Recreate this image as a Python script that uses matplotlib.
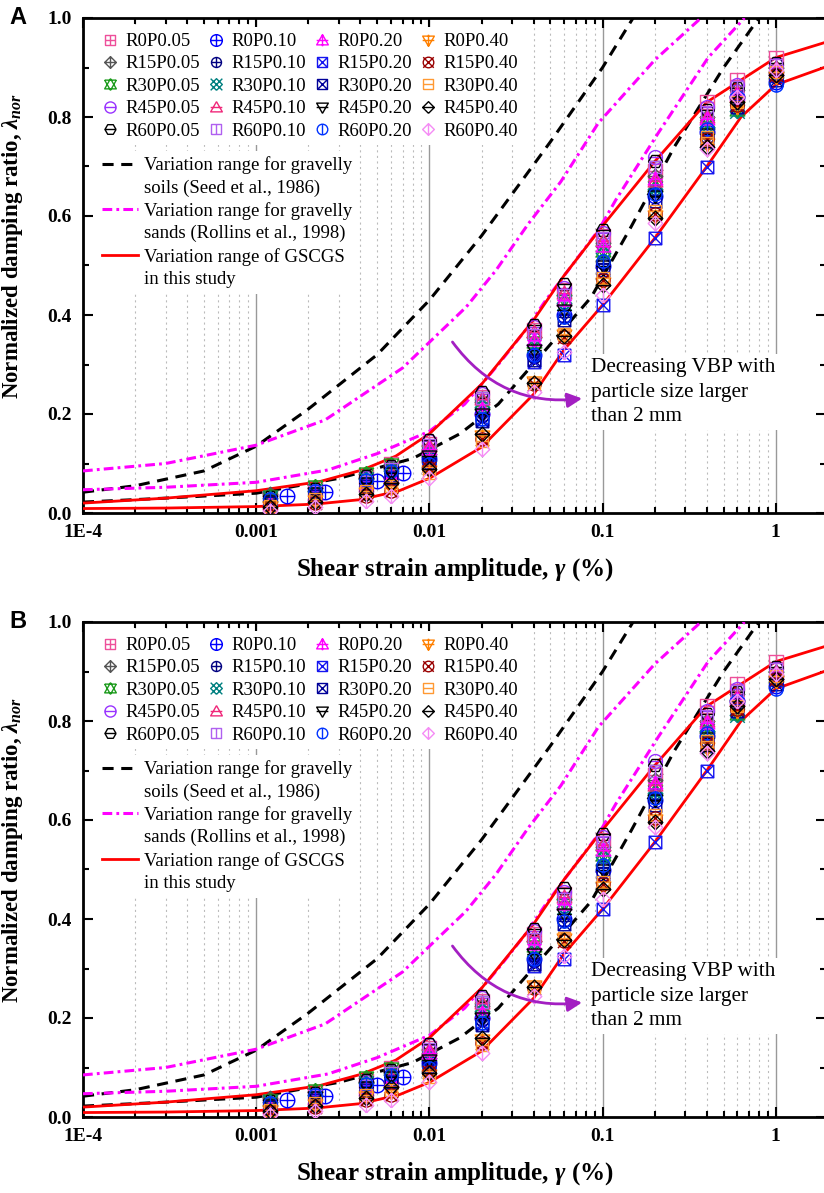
import numpy as np
import matplotlib
matplotlib.use("Agg")
import matplotlib.pyplot as plt
from matplotlib.path import Path
from matplotlib.lines import Line2D
from matplotlib.patches import FancyArrowPatch

plt.rcParams['font.family'] = ['Liberation Serif', 'DejaVu Serif']
plt.rcParams['mathtext.fontset'] = 'custom'
plt.rcParams['mathtext.rm'] = 'Liberation Serif:bold'
plt.rcParams['mathtext.it'] = 'Liberation Serif:italic:bold'
plt.rcParams['mathtext.bf'] = 'Liberation Serif:bold'
plt.rcParams['lines.scale_dashes'] = False

# ---- data ----
strain = [0.0012, 0.0022, 0.0043, 0.006, 0.01, 0.02, 0.04, 0.06, 0.1, 0.2, 0.4, 0.6, 1.0]
strain_r0p010 = [0.0015, 0.0025, 0.005, 0.007, 0.01, 0.02, 0.04, 0.06, 0.1, 0.2, 0.4, 0.6, 1.0]

labels = ['R0P0.05', 'R15P0.05', 'R30P0.05', 'R45P0.05', 'R60P0.05',
          'R0P0.10', 'R15P0.10', 'R30P0.10', 'R45P0.10', 'R60P0.10',
          'R0P0.20', 'R15P0.20', 'R30P0.20', 'R45P0.20', 'R60P0.20',
          'R0P0.40', 'R15P0.40', 'R30P0.40', 'R45P0.40', 'R60P0.40']

r0p005 = [0.030, 0.050, 0.072, 0.098, 0.140, 0.235, 0.370, 0.450, 0.560, 0.690, 0.830, 0.875, 0.920]
r15p005 = [0.038, 0.050, 0.078, 0.090, 0.130, 0.225, 0.355, 0.440, 0.545, 0.680, 0.800, 0.855, 0.900]
r30p005 = [0.035, 0.055, 0.080, 0.100, 0.125, 0.220, 0.345, 0.430, 0.530, 0.660, 0.790, 0.815, 0.890]
r45p005 = [0.028, 0.046, 0.070, 0.092, 0.145, 0.240, 0.375, 0.455, 0.565, 0.720, 0.820, 0.865, 0.905]
r60p005 = [0.032, 0.048, 0.075, 0.095, 0.148, 0.245, 0.380, 0.462, 0.572, 0.712, 0.815, 0.858, 0.910]

r0p010 = [0.035, 0.043, 0.065, 0.080, 0.110, 0.200, 0.320, 0.400, 0.500, 0.640, 0.770, 0.840, 0.870]
r15p010 = [0.025, 0.040, 0.060, 0.075, 0.105, 0.195, 0.315, 0.395, 0.505, 0.650, 0.760, 0.830, 0.880]
r30p010 = [0.030, 0.045, 0.068, 0.085, 0.120, 0.215, 0.340, 0.425, 0.525, 0.655, 0.780, 0.812, 0.885]
r45p010 = [0.020, 0.038, 0.055, 0.080, 0.135, 0.230, 0.365, 0.445, 0.550, 0.670, 0.800, 0.850, 0.900]
r60p010 = [0.022, 0.042, 0.062, 0.088, 0.138, 0.232, 0.360, 0.440, 0.555, 0.700, 0.810, 0.860, 0.905]

r0p020 = [0.018, 0.036, 0.058, 0.072, 0.130, 0.210, 0.350, 0.430, 0.540, 0.675, 0.795, 0.845, 0.895]
r15p020 = [0.015, 0.030, 0.050, 0.070, 0.095, 0.190, 0.305, 0.320, 0.420, 0.555, 0.700, 0.830, 0.885]
r30p020 = [0.020, 0.035, 0.055, 0.070, 0.100, 0.185, 0.310, 0.390, 0.490, 0.630, 0.750, 0.820, 0.875]
r45p020 = [0.025, 0.040, 0.060, 0.080, 0.115, 0.200, 0.330, 0.410, 0.500, 0.640, 0.765, 0.830, 0.880]
r60p020 = [0.028, 0.044, 0.066, 0.085, 0.100, 0.190, 0.320, 0.395, 0.510, 0.645, 0.775, 0.840, 0.865]

r0p040 = [0.012, 0.025, 0.040, 0.050, 0.085, 0.155, 0.265, 0.360, 0.465, 0.600, 0.745, 0.820, 0.880]
r15p040 = [0.010, 0.020, 0.035, 0.045, 0.090, 0.150, 0.260, 0.355, 0.470, 0.605, 0.755, 0.825, 0.885]
r30p040 = [0.015, 0.028, 0.045, 0.055, 0.080, 0.145, 0.262, 0.362, 0.475, 0.610, 0.760, 0.830, 0.890]
r45p040 = [0.013, 0.022, 0.038, 0.060, 0.088, 0.160, 0.262, 0.358, 0.460, 0.595, 0.740, 0.830, 0.885]
r60p040 = [0.005, 0.012, 0.025, 0.035, 0.070, 0.130, 0.245, 0.325, 0.440, 0.585, 0.735, 0.840, 0.895]

series = [r0p005, r15p005, r30p005, r45p005, r60p005,
          r0p010, r15p010, r30p010, r45p010, r60p010,
          r0p020, r15p020, r30p020, r45p020, r60p020,
          r0p040, r15p040, r30p040, r45p040, r60p040]

# reference curves (strain %, normalized damping)
seed_up_x = [1e-4, 2e-4, 5e-4, 1e-3, 2e-3, 5e-3, 1e-2, 2e-2, 5e-2, 0.1, 0.15]
seed_up_y = [0.042, 0.055, 0.085, 0.135, 0.21, 0.32, 0.43, 0.56, 0.75, 0.90, 1.0]
seed_lo_x = [1e-4, 3e-4, 1e-3, 3e-3, 8e-3, 0.015, 0.025, 0.047, 0.086, 0.146, 0.26, 0.5, 0.8]
seed_lo_y = [0.022, 0.03, 0.04, 0.07, 0.11, 0.16, 0.22, 0.33, 0.436, 0.578, 0.74, 0.90, 1.0]
roll_up_x = [1e-4, 3e-4, 1e-3, 2.5e-3, 7e-3, 0.01, 0.0163, 0.0242, 0.0374, 0.0573, 0.0946, 0.2, 0.37]
roll_up_y = [0.085, 0.10, 0.137, 0.188, 0.293, 0.345, 0.416, 0.49, 0.585, 0.669, 0.788, 0.915, 1.0]
roll_lo_x = [1e-4, 3e-4, 1e-3, 2.6e-3, 5e-3, 0.01, 0.016, 0.025, 0.036, 0.047, 0.095, 0.119, 0.209, 0.407, 0.66]
roll_lo_y = [0.047, 0.052, 0.062, 0.087, 0.12, 0.165, 0.22, 0.30, 0.37, 0.43, 0.572, 0.632, 0.767, 0.92, 1.0]
gscgs_up_x = [1e-4, 3e-4, 1e-3, 2.3e-3, 4.1e-3, 6.4e-3, 0.01, 0.02, 0.04, 0.06, 0.1, 0.2, 0.4, 1.0, 1.9]
gscgs_up_y = [0.02, 0.03, 0.045, 0.063, 0.087, 0.115, 0.16, 0.26, 0.39, 0.48, 0.58, 0.71, 0.83, 0.92, 0.95]
gscgs_lo_x = [1e-4, 3e-4, 1e-3, 2.2e-3, 4e-3, 6.7e-3, 0.01, 0.02, 0.04, 0.06, 0.1, 0.2, 0.4, 0.63, 1.0, 1.9]
gscgs_lo_y = [0.009, 0.01, 0.013, 0.018, 0.027, 0.045, 0.07, 0.133, 0.24, 0.33, 0.42, 0.555, 0.70, 0.80, 0.865, 0.90]


# ---- marker shapes ----
def outline(kind):
    if kind == 'square':
        return [(-1, -1), (1, -1), (1, 1), (-1, 1), (-1, -1)]
    if kind == 'diamond':
        return [(0, -1), (1, 0), (0, 1), (-1, 0), (0, -1)]
    if kind == 'up':
        return [(0, 1), (-1, -0.75), (1, -0.75), (0, 1)]
    if kind == 'down':
        return [(0, -1), (-1, 0.75), (1, 0.75), (0, -1)]
    if kind == 'hex':
        a = np.linspace(0, 2 * np.pi, 7)
        return list(zip(np.cos(a), np.sin(a)))
    return None


def make_marker(kind, inner):
    verts, codes = [], []
    if kind == 'circle':
        c = Path.unit_circle()
        verts += list(c.vertices)
        codes += list(c.codes)
    else:
        pts = outline(kind)
        verts += pts
        codes += [Path.MOVETO] + [Path.LINETO] * (len(pts) - 1)
    segs = []
    if '+' in inner:
        segs += [((-1, 0), (1, 0)), ((0, -1), (0, 1))]
    if 'x' in inner:
        segs += [((-1, -1), (1, 1)), ((-1, 1), (1, -1))]
    if '-' in inner:
        segs += [((-1, 0), (1, 0))]
    if '|' in inner:
        segs += [((0, -1), (0, 1))]
    if 'star' in inner:
        segs += [((0, -1), (-1, 0.75)), ((-1, 0.75), (1, 0.75)), ((1, 0.75), (0, -1))]
    for a, b in segs:
        verts += [a, b]
        codes += [Path.MOVETO, Path.LINETO]
    return Path(verts, codes)


styles = [
    ('#EE4F9A', 'square', '+'), ('#555555', 'diamond', '+'), ('#1C9B1C', 'up', 'star'),
    ('#9933FF', 'circle', '-'), ('black', 'hex', '-'),
    ('#0000FF', 'circle', '+'), ('#000080', 'circle', '+'), ('#008080', 'diamond', 'x'),
    ('#F0287A', 'up', '-'), ('#B060F0', 'square', '|'),
    ('#FF00FF', 'up', '+'), ('#1515F0', 'square', 'x'), ('#000099', 'square', 'x'),
    ('black', 'down', '-'), ('#0033FF', 'circle', '|'),
    ('#FF8000', 'down', '+'), ('#990000', 'circle', 'x'), ('#FF9933', 'square', '-'),
    ('black', 'diamond', '-'), ('#F58CF5', 'diamond', '|'),
]
sizes = [9.5, 10.5, 10.5, 10, 10, 10.5, 9, 10.5, 10.5, 8.5, 10.5, 9, 9, 10.5, 9.5, 10.5, 9.5, 9, 10.5, 10.5]


def draw_panel(ax, letter):
    ax.set_xscale('log')
    ax.set_xlim(1e-4, 1.95)
    ax.set_ylim(0, 1.0)

    ax.grid(which='major', axis='x', color='#999999', lw=1.0, ls='-', zorder=0)
    ax.grid(which='minor', axis='x', color='#bbbbbb', lw=0.8, ls=(0, (1.5, 2.5)), zorder=0)

    handles = []
    for i, (lab, vals) in enumerate(zip(labels, series)):
        col, kind, inner = styles[i]
        xs = strain_r0p010 if lab == 'R0P0.10' else strain
        h, = ax.plot(xs, vals, ls='none', marker=make_marker(kind, inner), ms=sizes[i],
                     mfc='none', mec=col, mew=1.0, label=lab, zorder=5)
        handles.append(h)

    l_seed, = ax.plot(seed_up_x, seed_up_y, color='black', lw=2.2, dashes=(8, 5.5), zorder=3)
    ax.plot(seed_lo_x, seed_lo_y, color='black', lw=2.2, dashes=(8, 5.5), zorder=3)
    l_roll, = ax.plot(roll_up_x, roll_up_y, color='#FF00FF', lw=2.2, dashes=(7, 3, 2, 3), zorder=3)
    ax.plot(roll_lo_x, roll_lo_y, color='#FF00FF', lw=2.2, dashes=(7, 3, 2, 3), zorder=3)
    l_gs, = ax.plot(gscgs_up_x, gscgs_up_y, color='#FF0000', lw=2.0, zorder=4)
    ax.plot(gscgs_lo_x, gscgs_lo_y, color='#FF0000', lw=2.0, zorder=4)

    leg1 = ax.legend(handles=handles, ncol=4, loc='upper left', bbox_to_anchor=(0.005, 1.0),
                     prop={'family': 'Liberation Serif', 'size': 13.5}, markerscale=0.8,
                     handlelength=0.9, handletextpad=0.35, columnspacing=0.42,
                     labelspacing=0.28, borderpad=0.3, frameon=True, fancybox=False,
                     edgecolor='none', facecolor='white', framealpha=1)
    leg1.set_zorder(6)
    ax.add_artist(leg1)

    blank = Line2D([], [], color='none')
    leg2 = ax.legend(handles=[l_seed, blank, l_roll, blank, l_gs, blank],
                     labels=['Variation range for gravelly', 'soils (Seed et al., 1986)',
                             'Variation range for gravelly', 'sands (Rollins et al., 1998)',
                             'Variation range of GSCGS', 'in this study'],
                     loc='upper left', bbox_to_anchor=(0.006, 0.751),
                     prop={'family': 'Liberation Serif', 'size': 13.5},
                     handlelength=1.9, handletextpad=0.3, labelspacing=0.28, borderpad=0.3,
                     frameon=True, fancybox=False, edgecolor='none', facecolor='white',
                     framealpha=1)
    leg2.set_zorder(6)

    ax.text(0.0855, 0.244, 'Decreasing VBP with\nparticle size larger\nthan 2 mm',
            fontsize=15.3, family='Liberation Serif', ha='left', va='center', linespacing=1.38,
            bbox=dict(facecolor='white', edgecolor='none', pad=3), zorder=6)
    arr = FancyArrowPatch((0.0133, 0.35), (0.079, 0.232), connectionstyle='arc3,rad=0.3',
                          arrowstyle='-|>', mutation_scale=22, color='#A31FC2', lw=2.0, zorder=7)
    ax.add_patch(arr)

    ax.set_xticks([1e-4, 1e-3, 1e-2, 1e-1, 1])
    ax.set_xticklabels(['1E-4', '0.001', '0.01', '0.1', '1'])
    ax.xaxis.set_minor_locator(matplotlib.ticker.LogLocator(base=10, subs=np.arange(2, 10), numticks=20))
    ax.xaxis.set_minor_formatter(matplotlib.ticker.NullFormatter())
    ax.set_yticks(np.arange(0, 1.01, 0.2))
    ax.set_yticklabels(['0.0', '0.2', '0.4', '0.6', '0.8', '1.0'])
    ax.yaxis.set_minor_locator(matplotlib.ticker.MultipleLocator(0.1))
    ax.tick_params(which='both', direction='in', top=True, right=True, width=1.5, labelsize=14)
    ax.tick_params(which='major', length=7, pad=8)
    ax.tick_params(which='minor', length=4)
    for t in ax.get_xticklabels() + ax.get_yticklabels():
        t.set_fontweight('bold')
    for s in ax.spines.values():
        s.set_linewidth(2.0)

    ax.set_xlabel(r'Shear strain amplitude, $\gamma$ (%)', fontsize=18, fontweight='bold', labelpad=11)
    ax.set_ylabel(r'Normalized damping ratio, $\lambda_{nor}$', fontsize=16.5, fontweight='bold', labelpad=6)
    ax.yaxis.set_label_coords(-0.078, 0.54)

    ax.text(-0.088, 1.0, letter, transform=ax.transAxes, fontsize=17, fontweight='bold',
            family='Liberation Sans', ha='center', va='center')


fig = plt.figure(figsize=(8.24, 11.93), dpi=100)
W, H = 824, 1193
axA = fig.add_axes([83 / W, 1 - 513 / H, 743 / W, 495 / H])
axB = fig.add_axes([83 / W, 1 - 1117 / H, 743 / W, 495 / H])
draw_panel(axA, 'A')
draw_panel(axB, 'B')

fig.savefig('out.png', dpi=100)
